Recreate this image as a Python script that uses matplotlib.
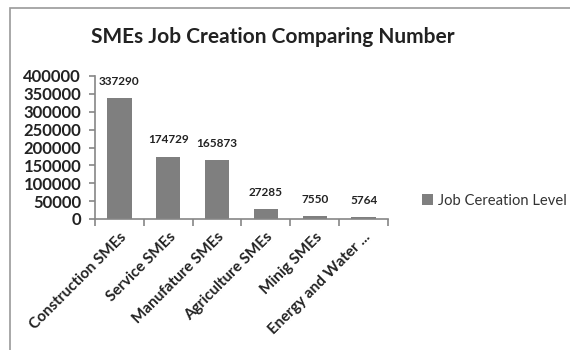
import matplotlib.pyplot as plt
from matplotlib.patches import Rectangle
import numpy as np

# data
categories = ['Construction SMEs', 'Service SMEs', 'Manufature SMEs',
              'Agriculture SMEs', 'Minig SMEs', 'Energy and Water ...']
jobs = [337290, 174729, 165873, 27285, 7550, 5764]
yticks = [0, 50000, 100000, 150000, 200000, 250000, 300000, 350000, 400000]

plt.rcParams['font.family'] = ['Lato', 'DejaVu Sans']

fig = plt.figure(figsize=(5.7, 3.5), dpi=100)
ax = fig.add_axes([95/570, 1-219/350, (388-95)/570, (219-76)/350])

x = np.arange(len(categories))
ax.bar(x, jobs, width=0.5, color='#7f7f7f', label='Job Cereation Level')

for xi, v in zip(x, jobs):
    ax.annotate(str(v), (xi, v), xytext=(0, 12), textcoords='offset points',
                ha='center', va='center', fontsize=8.5, fontweight='bold', color='#222222')

ax.set_xlim(-0.5, len(categories) - 0.5)
ax.set_ylim(0, 400000)
ax.set_yticks(yticks)
ax.set_yticklabels([str(t) for t in yticks], fontsize=12, fontweight='bold', color='#222222')

ax.set_xticks(x)
ax.set_xticklabels(categories, rotation=45, ha='right', rotation_mode='anchor',
                   fontsize=11, fontweight='bold', color='#222222')
ax.set_xticks(np.arange(-0.5, len(categories)), minor=True)
ax.tick_params(axis='x', which='major', length=0, pad=8)
ax.tick_params(axis='x', which='minor', length=5, color='#868686', width=1.2)
ax.tick_params(axis='y', length=4, color='#868686', width=1.2, pad=6)

for s in ['top', 'right']:
    ax.spines[s].set_visible(False)
for s in ['left', 'bottom']:
    ax.spines[s].set_color('#868686')
    ax.spines[s].set_linewidth(1.2)

fig.text(273/570, 1-37/350, 'SMEs Job Creation Comparing Number', ha='center', va='center',
         fontsize=15, fontweight='bold', color='#222222')

fig.legend(loc='center left', bbox_to_anchor=(409/570, 1-201/350), frameon=False,
           fontsize=10.6, handlelength=0.75, handleheight=0.75, handletextpad=0.3,
           labelcolor='#333333')

fig.patches.append(Rectangle((10/570, -0.1), 1.2, 1 - 8/350 + 0.1, transform=fig.transFigure,
                             fill=False, edgecolor='#9a9a9a', linewidth=1.2))

fig.savefig('out.png', dpi=100)
